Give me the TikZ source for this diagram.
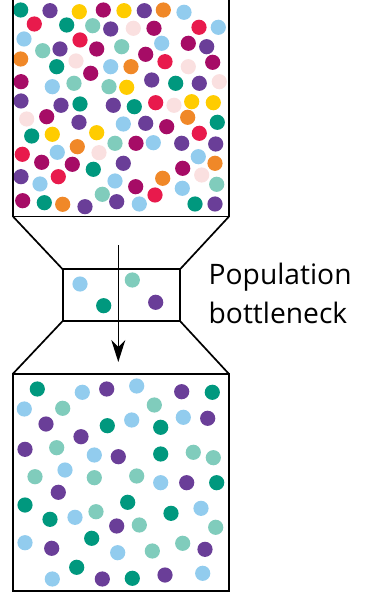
\documentclass[tikz,border=0pt]{standalone}
\usepackage{fontspec}
\newfontfamily\labelfont{Open Sans}
\usetikzlibrary{arrows.meta}
\definecolor{dotteal}{RGB}{0,152,126}
\definecolor{dotpurple}{RGB}{106,62,152}
\definecolor{dotyellow}{RGB}{255,204,0}
\definecolor{dotmagenta}{RGB}{166,12,102}
\definecolor{dotred}{RGB}{232,26,76}
\definecolor{dotorange}{RGB}{240,136,40}
\definecolor{dotblue}{RGB}{146,204,238}
\definecolor{dotmint}{RGB}{128,204,188}
\definecolor{dotpink}{RGB}{250,224,224}

\begin{document}
\begin{tikzpicture}[x=1pt, y=-1pt, frame/.style={draw, line width=1.7pt, inner sep=0pt, outer sep=0pt}, funnel/.style={line width=1.7pt}, dot/.style={radius=7.6}, arrow/.style={line width=1.3pt, -{Stealth[length=22pt, width=14pt, inset=7pt]}}, caption/.style={font=\labelfont\fontsize{28.2}{39}\selectfont, align=left, inner sep=0pt}]
\useasboundingbox (0,0) rectangle (365,593);
\foreach \x/\y/\c in {20.7/10/dotteal, 50/10.7/dotpurple, 79.3/11.7/dotyellow, 103.3/10/dotmagenta, 124/10.7/dotyellow, 144.3/10.7/dotpurple, 163.3/10/dotorange, 184/12.3/dotblue,
  34.3/24/dotred, 66.7/25/dotteal, 92.7/25.7/dotmint, 110.7/29/dotpurple, 133.3/28.3/dotpink, 154/28.3/dotmagenta, 199/27.3/dotred, 218.3/27.3/dotblue,
  24/39/dotblue, 80/40/dotred, 42.7/50.7/dotmint, 60/49/dotpurple, 96.7/49/dotmagenta, 121.7/46.7/dotmint, 161.7/43.3/dotblue, 188.3/43.3/dotmagenta, 206.7/46.7/dotpurple,
  20.7/59/dotorange, 56.7/66.7/dotteal, 76/61/dotpink, 145.7/54.3/dotmagenta, 165/61.7/dotred, 90.7/73.3/dotmagenta, 110.7/66.7/dotblue, 131/66.7/dotorange, 188.3/66.7/dotpink, 212.7/62.3/dotmagenta,
  21/81.7/dotmagenta, 52.3/86.7/dotblue, 74/83.3/dotmint, 109/86.7/dotmint, 126.7/87.3/dotyellow, 151.7/80/dotpurple, 175.7/83.3/dotteal, 199.3/83.3/dotpurple, 219.3/81.7/dotpink,
  21/101/dotpurple, 61/105.3/dotpurple, 80/104/dotteal, 113.3/105.3/dotpurple, 134.3/106.7/dotteal, 155.7/102.7/dotred, 174/105.3/dotpink, 191.7/101.7/dotyellow, 213.3/102.7/dotyellow,
  26.7/119/dotpink, 46.7/116.7/dotmagenta, 79/122.3/dotpurple, 123.3/124/dotblue, 145.7/123.3/dotpurple, 166.7/126.7/dotmagenta, 187.7/117.3/dotorange, 217.3/122.3/dotteal,
  31.7/136/dotteal, 52.3/134.3/dotyellow, 96.7/132.7/dotyellow, 115/143.3/dotmint, 136/143.3/dotmagenta, 153.3/142.7/dotblue, 181.7/143.3/dotpurple, 199.3/133.3/dotred, 215.7/144/dotpurple,
  57.3/152.3/dotblue, 77.3/146.7/dotorange, 99/152.7/dotpink, 22.3/154.3/dotred, 41.7/162.3/dotmagenta, 72.3/164.3/dotmagenta, 93.3/169.3/dotteal, 123.3/163.3/dotpurple, 198.3/156.7/dotblue, 215/163.3/dotorange,
  21/176.7/dotpurple, 58.3/176.7/dotred, 40/184/dotblue, 115/181/dotblue, 135.7/186.7/dotmagenta, 162.7/178.3/dotorange, 182.7/168.3/dotmagenta, 201.7/175/dotpink, 182.3/188.3/dotblue, 216.7/184.3/dotmint,
  102.3/194.3/dotmint, 155/195/dotred, 22.7/200.7/dotmagenta, 44.3/202.7/dotteal, 62.7/204.3/dotorange, 85/206.7/dotpurple, 116.7/201.7/dotpurple, 139.3/204/dotblue, 195/204/dotteal, 215/204/dotpurple}
  \fill[\c] (\x,\y) circle[dot];
\foreach \x/\y/\c in {80/284/dotblue, 132.3/280/dotmint, 103.7/305.7/dotteal, 155.7/302.3/dotpurple}
  \fill[\c] (\x,\y) circle[dot];
\foreach \x/\y/\c in {37.3/389/dotteal, 82.3/392.3/dotblue, 106.7/389/dotpurple, 136.7/386/dotblue, 181.7/391.7/dotpurple, 212.3/392.3/dotteal,
  24.3/409/dotblue, 62.7/408.3/dotmint, 154.3/405/dotmint, 183.3/417.3/dotblue, 207.7/418.3/dotpurple, 46/424/dotpurple, 107.3/425.7/dotteal, 131.7/420/dotblue, 160.7/427.3/dotteal, 81/436.7/dotpurple,
  25/449.3/dotpurple, 56.7/447.7/dotmint, 94.3/455/dotblue, 118.3/456.7/dotpurple, 160.7/454/dotteal, 193.3/452.3/dotmint, 213.3/457.7/dotmint,
  35/476.7/dotmint, 65/470/dotblue, 94.3/477.7/dotmint, 136.7/476/dotmint, 160.7/482.7/dotblue, 186.7/482.7/dotpurple, 216.7/482.7/dotteal, 58.3/492.3/dotpurple,
  25/505/dotteal, 127.7/502.3/dotteal, 96/511.7/dotmint, 75/517.3/dotblue, 50/519.3/dotteal, 171/513.3/dotteal, 201/508.3/dotblue, 116.7/526/dotpurple, 139.3/525/dotmint, 215.7/527.3/dotmint,
  91.7/538.3/dotteal, 25/542.7/dotblue, 51.7/548.3/dotpurple, 117.7/552.7/dotblue, 152.3/551/dotmint, 182.7/543.3/dotmint, 205/549.3/dotpurple,
  76.7/567.3/dotteal, 52.3/579/dotblue, 102.3/579/dotpurple, 132.3/578.3/dotteal, 165/575/dotpurple, 202.7/573.3/dotblue}
  \fill[\c] (\x,\y) circle[dot];
\node[frame, anchor=south west, minimum width=216pt, minimum height=230pt] (before) at (13,216.5) {};
\node[frame, anchor=north west, minimum width=117.3pt, minimum height=51.7pt] (neck) at (62.7,269.3) {};
\node[frame, anchor=north west, minimum width=216.3pt, minimum height=217pt] (after) at (12.7,374) {};
\draw[funnel] (before.south west) -- (neck.north west);
\draw[funnel] (before.south east) -- (neck.north east);
\draw[funnel] (neck.south west) -- (after.north west);
\draw[funnel] (neck.south east) -- (after.north east);
\coordinate (arrowstart) at (118.3,245);
\coordinate (arrowend) at (118.3,362);
\draw[arrow] (arrowstart) -- (arrowend);
\node[caption, anchor=base west] (bottlenecklabel) at (208.5,323.3) {Population\\bottleneck};
\end{tikzpicture}
\end{document}
